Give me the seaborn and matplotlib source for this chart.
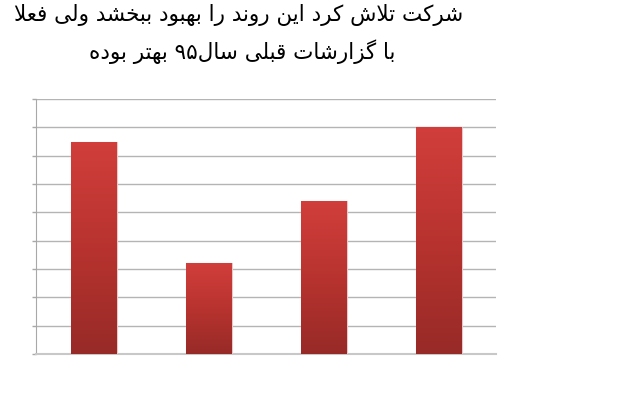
import numpy as np
import pandas as pd
import matplotlib
matplotlib.use("Agg")
import matplotlib.pyplot as plt
from matplotlib.colors import LinearSegmentedColormap
import seaborn as sns

# data
categories = ["1", "2", "3", "4"]
values = [7.5, 3.2, 5.4, 8.0]
title_line1 = "شرکت تلاش کرد این روند را بهبود ببخشد ولی فعلا"
title_line2 = "با گزارشات قبلی سال۹۵ بهتر بوده"

# --- simple Persian shaping (matplotlib has no Arabic shaping / bidi) ---
# char -> (isolated, final, initial, medial); right-joining letters have 2 forms
FORMS = {
    "ا": ("\uFE8D", "\uFE8E"), "د": ("\uFEA9", "\uFEAA"), "ر": ("\uFEAD", "\uFEAE"),
    "ز": ("\uFEAF", "\uFEB0"), "و": ("\uFEED", "\uFEEE"),
    "ب": ("\uFE8F", "\uFE90", "\uFE91", "\uFE92"), "ت": ("\uFE95", "\uFE96", "\uFE97", "\uFE98"),
    "خ": ("\uFEA5", "\uFEA6", "\uFEA7", "\uFEA8"), "س": ("\uFEB1", "\uFEB2", "\uFEB3", "\uFEB4"),
    "ش": ("\uFEB5", "\uFEB6", "\uFEB7", "\uFEB8"), "ع": ("\uFEC9", "\uFECA", "\uFECB", "\uFECC"),
    "ف": ("\uFED1", "\uFED2", "\uFED3", "\uFED4"), "ق": ("\uFED5", "\uFED6", "\uFED7", "\uFED8"),
    "ل": ("\uFEDD", "\uFEDE", "\uFEDF", "\uFEE0"), "ن": ("\uFEE5", "\uFEE6", "\uFEE7", "\uFEE8"),
    "ه": ("\uFEE9", "\uFEEA", "\uFEEB", "\uFEEC"), "ک": ("\uFB8E", "\uFB8F", "\uFB90", "\uFB91"),
    "گ": ("\uFB92", "\uFB93", "\uFB94", "\uFB95"), "ی": ("\uFBFC", "\uFBFD", "\uFBFE", "\uFBFF"),
    "\uFEFB": ("\uFEFB", "\uFEFC"),  # lam-alef
}


def shape(text):
    text = text.replace("لا", "\uFEFB")
    out = []
    for i, ch in enumerate(text):
        if ch not in FORMS:
            out.append(ch)
            continue
        f = FORMS[ch]
        prev = text[i - 1] if i > 0 else ""
        nxt = text[i + 1] if i + 1 < len(text) else ""
        jp = prev in FORMS and len(FORMS[prev]) == 4
        jn = len(f) == 4 and nxt in FORMS
        if jp and jn:
            out.append(f[3])
        elif jp:
            out.append(f[1])
        elif jn:
            out.append(f[2])
        else:
            out.append(f[0])
    s = "".join(out)[::-1]
    # keep digit runs left to right
    res, run = [], ""
    for ch in s:
        if ch.isdigit():
            run += ch
        else:
            if run:
                res.append(run[::-1])
                run = ""
            res.append(ch)
    if run:
        res.append(run[::-1])
    return "".join(res)


sns.set_style("white")
plt.rcParams["font.family"] = ["DejaVu Sans"]

df = pd.DataFrame({"cat": categories, "val": values})

fig = plt.figure(figsize=(6.4, 4.0), dpi=100)
ax = fig.add_axes([36 / 640, 1 - 354 / 400, 460 / 640, 255 / 400])

sns.barplot(data=df, x="cat", y="val", color="#c0392b", width=0.4, ax=ax,
            edgecolor="#e8c8c8", linewidth=0.8, zorder=3)

# vertical red gradient inside each bar
cmap = LinearSegmentedColormap.from_list("redgrad", ["#972a27", "#b8332f", "#d13e3b"])
grad = np.linspace(0, 1, 256).reshape(-1, 1)
for p in list(ax.patches):
    bb = p.get_bbox()
    im = ax.imshow(grad, extent=[bb.x0, bb.x1, bb.y0, bb.y1], origin="lower",
                   aspect="auto", cmap=cmap, zorder=3.5)
    im.set_clip_path(p)

ax.set_xlim(-0.5, 3.5)
ax.set_ylim(0, 9)
ax.set_yticks(range(0, 10))
ax.yaxis.grid(True, color="#b4b4b4", linewidth=1.0, zorder=1)
ax.set_axisbelow(True)
ax.tick_params(axis="y", length=3, width=1, color="#a8a8a8", labelleft=False, left=True)
ax.tick_params(axis="x", length=0, labelbottom=False)
ax.set_xlabel("")
ax.set_ylabel("")
for side in ["top", "right"]:
    ax.spines[side].set_visible(False)
ax.spines["left"].set_color("#a8a8a8")
ax.spines["bottom"].set_color("#c8c8c8")
ax.spines["bottom"].set_linewidth(1.5)

fig.text(238.5 / 640, 1 - 21 / 400, shape(title_line1), ha="center", va="baseline",
         fontsize=15.5, color="black")
fig.text(242.5 / 640, 1 - 59 / 400, shape(title_line2), ha="center", va="baseline",
         fontsize=15.5, color="black")

fig.savefig("out.png", dpi=100)
